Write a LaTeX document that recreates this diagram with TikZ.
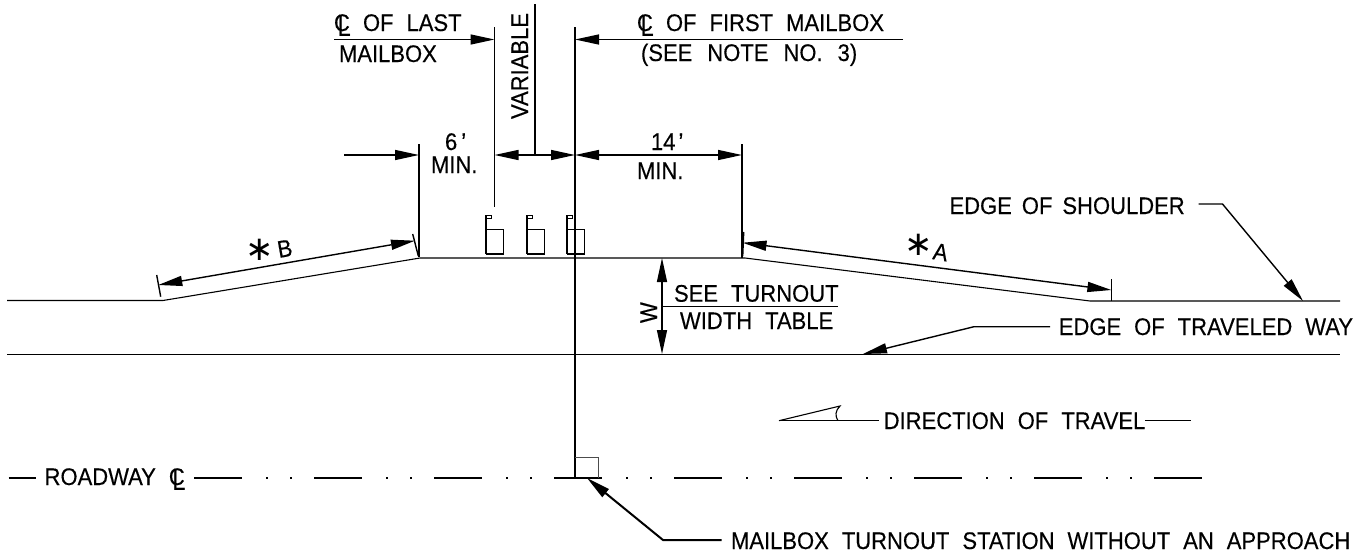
\documentclass[tikz,border=0pt]{standalone}
\usepackage{fontspec}
\setmainfont{Liberation Sans}
\newfontfamily\dejavufont{DejaVu Sans}
\newfontfamily\labfam[FakeStretch=0.917,FakeBold=0.3]{Liberation Sans}
\newfontfamily\markfam[FakeStretch=0.8]{Liberation Sans}
\usetikzlibrary{arrows.meta}
\newcommand{\CLmark}{\hbox to 0pt{C\hss}\kern3.5pt\lower5pt\hbox{\markfam\fontsize{30}{30}\selectfont L}}
\newcommand{\labfont}{\labfam\fontsize{24}{26}\selectfont\spaceskip 13pt\relax}
\tikzset{
  every node/.style={inner sep=0pt,outer sep=0pt},
  labeltext/.style={anchor=base west,font=\labfont},
  linemain/.style={line width=1.4pt,line cap=butt,black},
  linethin/.style={line width=1.1pt,black},
  headone/.style={-{Triangle[length=24pt,width=10pt]}},
  headtwo/.style={{Triangle[length=24pt,width=10pt]}-{Triangle[length=24pt,width=10pt]}},
  starmark/.style={font=\dejavufont\fontsize{34}{34}\selectfont},
  boxline/.style={line width=1.9pt,black},
}
\begin{document}
\begin{tikzpicture}[x=1pt,y=-1pt]
\useasboundingbox (0,0) rectangle (1370,554);
% coordinates
\coordinate (l0) at (7,300.5);
\coordinate (l1) at (163,300.5);
\coordinate (l2) at (420,258);
\coordinate (l3) at (745,258);
\coordinate (l4) at (1090,301);
\coordinate (l5) at (1340,301);
\coordinate (e0) at (7,354.5);
\coordinate (e1) at (1340,354.5);
% road
\draw[linethin] (l0)--(l1)--(l2)--(l3)--(l4)--(l5);
\draw[linethin] (e0)--(e1);
% vertical extension lines
\coordinate (vA0) at (494.5,27); \coordinate (vA1) at (494.5,207);
\coordinate (vB0) at (575,27); \coordinate (vB1) at (575,478);
\coordinate (vV0) at (535,4); \coordinate (vV1) at (535,155);
\coordinate (vL0) at (419,144); \coordinate (vL1) at (419,257);
\coordinate (vR0) at (742,144); \coordinate (vR1) at (742,258);
\draw[linemain] (vA0)--(vA1);
\draw[linemain] (vB0)--(vB1);
\draw[linemain] (vV0)--(vV1);
\draw[linemain] (vL0)--(vL1);
\draw[linemain] (vR0)--(vR1);
% top leaders
\coordinate (a1) at (334,39.5); \coordinate (a2) at (494.5,39.5);
\coordinate (a3) at (903,39.5); \coordinate (a4) at (575,39.5);
\draw[linemain,headone] (a1)--(a2);
\draw[linemain,headone] (a3)--(a4);
% dims at y=155
\coordinate (d1) at (344,155); \coordinate (d2) at (419,155);
\coordinate (d3) at (494.5,155); \coordinate (d4) at (575,155); \coordinate (d5) at (742,155);
\draw[linemain,headone] (d1)--(d2);
\draw[linemain,headone] (vV1)--(d3);
\draw[linemain,headone] (vV1)--(d4);
\draw[linemain,headtwo] (d4)--(d5);
% mailboxes
\foreach \px in {486,527,567}{
  \draw[boxline] (\px,254)--(\px,215.5)--(\px+5.5,215.5)--(\px+5.5,218.5)--(\px,218.5);
  \draw[boxline] (\px,229.5)--(\px+17.5,229.5)--(\px+17.5,254)--(\px,254);
}
% slope dims
\coordinate (bL) at (158.3,285); \coordinate (bR) at (415,240.7);
\coordinate (tb1) at (156.7,275); \coordinate (tb2) at (160.7,296.7);
\coordinate (tb3) at (412.7,234); \coordinate (tb4) at (418.3,256);
\draw[linemain,headtwo] (bL)--(bR);
\draw[linemain] (tb1)--(tb2);
\draw[linemain] (tb3)--(tb4);
\coordinate (aL) at (742.5,242.7); \coordinate (aR) at (1111.4,290);
\coordinate (ta1) at (743.7,232); \coordinate (ta2) at (742.7,256);
\coordinate (ta3) at (1111.4,279); \coordinate (ta4) at (1111.4,301);
\draw[linemain,headtwo] (aL)--(aR);
\draw[linemain] (ta1)--(ta2);
\draw[linemain] (ta3)--(ta4);
% W dim
\coordinate (w0) at (662,258); \coordinate (w1) at (662,354);
\draw[linemain,headtwo] (w0)--(w1);
\coordinate (t0) at (662,306.7); \coordinate (t1) at (838,306.7);
\draw[linemain] (t0)--(t1);
% leaders right
\coordinate (s0) at (1198.5,204); \coordinate (s1) at (1222.5,204); \coordinate (s2) at (1303,301);
\draw[linemain,headone] (s0)--(s1)--(s2);
\coordinate (w2) at (1050,326.7); \coordinate (w3) at (974,326.7); \coordinate (w4) at (863,354);
\draw[linemain,headone] (w2)--(w3)--(w4);
% direction
\coordinate (dr0) at (779,420.7); \coordinate (dr1) at (879,420.7); \coordinate (dr2) at (840,406);
\coordinate (dr3) at (838,420.7); \coordinate (dr4) at (1145,420.7); \coordinate (dr5) at (1191,420.7);
\draw[linemain] (dr0)--(dr1);
\draw[linethin] (dr0)--(dr2) .. controls (835,411) and (835,416) .. (dr3);
\draw[linemain] (dr4)--(dr5);
% centre line
\draw[linethin] (8.5,478)--(35.7,478);
\foreach \px in {194,314,434,554,674,794,914,1034,1154}{
  \draw[linethin] (\px,478)--(\px+48,478);
}
\foreach \px in {266,290,386,410,506,530,626,650,746,770,866,890,986,1010,1106,1130}{
  \draw[linethin] (\px,478)--(\px+1.5,478);
}
\draw[line width=1pt,black!70] (575,457.7)--(598,457.7)--(598,478);
% mailbox leader
\coordinate (m0) at (721.5,540); \coordinate (m1) at (663,540); \coordinate (m2) at (587,478);
\draw[line width=2pt,headone] (m0)--(m1)--(m2);
% texts
\node[labeltext] (txa) at (334,31) {\CLmark};
\node[labeltext] (txb) at (363,31) {OF LAST};
\node[labeltext] (txc) at (339,62) {MAILBOX};
\node[labeltext,rotate=90] (txv) at (528,119) {VARIABLE};
\node[labeltext] (txd) at (637,31) {\CLmark};
\node[labeltext] (txe) at (666,31) {OF FIRST MAILBOX};
\node[labeltext] (txf) at (641,61) {\spaceskip 15pt\relax (SEE NOTE NO. 3)};
\node[labeltext] (txg) at (445,150) {6\kern4pt’};
\node[labeltext] (txh) at (431,173) {MIN.};
\node[labeltext] (txi) at (651,150) {14\kern3pt’};
\node[labeltext] (txj) at (637,179) {MIN.};
\node[starmark] (sb) at (259.5,249.5) {∗};
\node[labeltext,rotate=10] (txk) at (279,258) {B};
\node[starmark] (sa) at (919,244.5) {∗};
\node[labeltext,rotate=-10] (txl) at (932,259) {A};
\node[labeltext] (txm) at (949.5,214) {\spaceskip 10pt\relax EDGE OF SHOULDER};
\node[labeltext] (txn) at (1058.8,335) {EDGE OF TRAVELED WAY};
\node[labeltext] (txo) at (883.7,429) {DIRECTION OF TRAVEL};
\node[labeltext] (txp) at (44.6,485) {ROADWAY \CLmark};
\node[labeltext] (txq) at (731,549) {MAILBOX TURNOUT STATION WITHOUT AN APPROACH};
\node[labeltext] (txr) at (674,301.7) {SEE TURNOUT};
\node[labeltext] (txs) at (680,329) {WIDTH TABLE};
\node[labeltext,rotate=90] (txt) at (657,323) {W};
\end{tikzpicture}
\end{document}
